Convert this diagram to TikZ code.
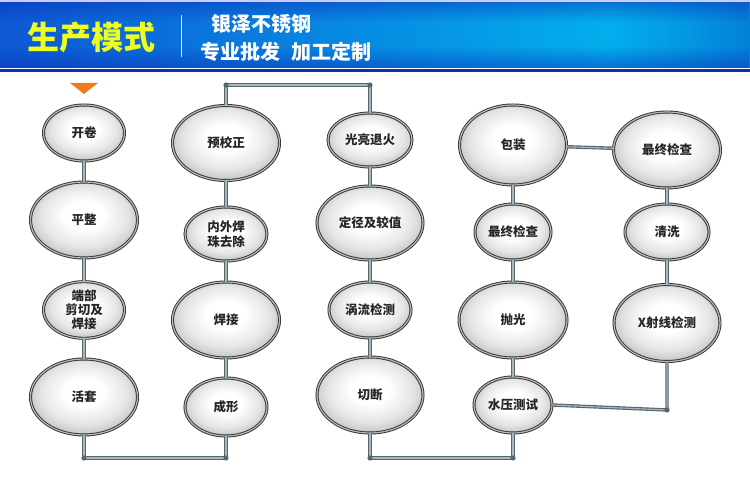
\documentclass[tikz,border=0pt]{standalone}
\usepackage{fontspec}
\newfontfamily\cjk{Noto Sans CJK SC}
\usetikzlibrary{shapes.geometric,fadings}
\definecolor{hdrL}{HTML}{0E58D4}
\definecolor{hdrR}{HTML}{00C2F2}
\definecolor{hdrDark}{HTML}{0A2FB8}
\definecolor{ttl}{HTML}{EEFF1E}
\definecolor{pipeO}{HTML}{56666F}
\definecolor{pipeI}{HTML}{A9B6BC}
\definecolor{tri}{HTML}{F07A1E}
\definecolor{txt}{HTML}{262626}
\pgfdeclareradialshading{metal}{\pgfpoint{0bp}{4bp}}{%
  color(0bp)=(white); color(9bp)=(white); color(20bp)=(black!10);
  color(28bp)=(black!25); color(34bp)=(black!45); color(50bp)=(black!55)}
\tikzset{
  stepnode/.style={ellipse, inner sep=0pt, align=center,
    shading=metal,
    draw=black!80, line width=0.9pt, double=black!28, double distance=1.2pt,
    font=\cjk\bfseries\fontsize{12.5}{15}\selectfont, text=txt},
  pipe/.style={draw=pipeO, line width=3.4pt, line join=round,
    postaction={draw=pipeI, line width=1.1pt}},
  joint/.style={fill=pipeO},
}
\begin{document}
\begin{tikzpicture}[x=1pt,y=-1pt]
\useasboundingbox (0,0) rectangle (750,486);
\fill[white] (0,0) rectangle (750,486);
% header
\shade[left color=hdrL, right color=hdrR] (0,0) rectangle (750,68);
\fill[hdrDark, path fading=south, opacity=0.5] (0,0) rectangle (750,22);
\fill[hdrDark, path fading=north, opacity=0.5] (0,46) rectangle (750,68);
\fill[hdrDark, path fading=west, opacity=0.45] (610,0) rectangle (750,68);
\fill[blue!20!white] (0,0) rectangle (750,2);
\fill[white] (0,68) rectangle (750,69.3);
\fill[hdrDark] (0,69.3) rectangle (750,72);
\node[anchor=west, inner sep=0pt, text=ttl, font=\cjk\bfseries\fontsize{32}{34}\selectfont] (title) at (27,37) {生产模式};
\draw[white!80!cyan, line width=0.8pt] (181,15) -- (181,57);
\node[anchor=west, inner sep=0pt, text=white, font=\cjk\bfseries\fontsize{20}{22}\selectfont] (sub1) at (211,24) {银泽不锈钢};
\node[anchor=west, inner sep=0pt, text=white, font=\cjk\bfseries\fontsize{20}{22}\selectfont] (sub2) at (200,52) {专业批发\hspace{11pt}加工定制};
% start marker
\fill[tri] (70,83) -- (98,83) -- (84,94) -- cycle;
% column 1
\node[stepnode, minimum width=81, minimum height=56] (a1) at (84,133) {开卷};
\node[stepnode, minimum width=107, minimum height=76] (a2) at (84,220) {平整};
\node[stepnode, minimum width=81, minimum height=55, font=\cjk\bfseries\fontsize{12.5}{14}\selectfont] (a3) at (84,310) {端部\\剪切及\\焊接};
\node[stepnode, minimum width=107, minimum height=76] (a4) at (84,397) {活套};
% column 2
\node[stepnode, minimum width=107, minimum height=75] (b1) at (226,143) {预校正};
\node[stepnode, minimum width=82, minimum height=54] (b2) at (226,234) {内外焊\\珠去除};
\node[stepnode, minimum width=107, minimum height=76] (b3) at (226,320) {焊接};
\node[stepnode, minimum width=82, minimum height=58] (b4) at (226,407) {成形};
% column 3
\node[stepnode, minimum width=84, minimum height=54] (c1) at (370,140) {光亮退火};
\node[stepnode, minimum width=106, minimum height=74] (c2) at (370,223) {定径及较值};
\node[stepnode, minimum width=82, minimum height=56] (c3) at (370,310) {涡流检测};
\node[stepnode, minimum width=106, minimum height=76] (c4) at (370,395) {切断};
% column 4
\node[stepnode, minimum width=107, minimum height=80] (d1) at (513,145) {包装};
\node[stepnode, minimum width=76, minimum height=56] (d2) at (513,232) {最终检查};
\node[stepnode, minimum width=108, minimum height=76] (d3) at (513,320) {抛光};
\node[stepnode, minimum width=78, minimum height=56] (d4) at (513,405) {水压测试};
% column 5
\node[stepnode, minimum width=107, minimum height=76] (e1) at (667,150) {最终检查};
\node[stepnode, minimum width=84, minimum height=56] (e2) at (667,232) {清洗};
\node[stepnode, minimum width=106, minimum height=77] (e3) at (667,323) {X射线检测};
% corner points
\coordinate (p1) at (84,458);
\coordinate (p2) at (226,458);
\coordinate (p3) at (226,85);
\coordinate (p4) at (370,85);
\coordinate (p5) at (370,458);
\coordinate (p6) at (513,458);
\coordinate (p7) at (667,410);
% pipes
\draw[pipe] (a1) -- (a2);
\draw[pipe] (a2) -- (a3);
\draw[pipe] (a3) -- (a4);
\draw[pipe] (a4.south) -- (p1) -- (p2) -- (b4.south);
\draw[pipe] (b4) -- (b3);
\draw[pipe] (b3) -- (b2);
\draw[pipe] (b2) -- (b1);
\draw[pipe] (b1.north) -- (p3) -- (p4) -- (c1.north);
\draw[pipe] (c1) -- (c2);
\draw[pipe] (c2) -- (c3);
\draw[pipe] (c3) -- (c4);
\draw[pipe] (c4.south) -- (p5) -- (p6) -- (d4.south);
\draw[pipe] (d4) -- (d3);
\draw[pipe] (d3) -- (d2);
\draw[pipe] (d2) -- (d1);
\draw[pipe] (d1) -- (e1);
\draw[pipe] (d4.east) -- (p7) -- (e3.south);
\draw[pipe] (e3) -- (e2);
\draw[pipe] (e2) -- (e1);
\foreach \p in {p1,p2,p3,p4,p5,p6,p7} \fill[joint] (\p) circle (2.6);
\end{tikzpicture}
\end{document}
